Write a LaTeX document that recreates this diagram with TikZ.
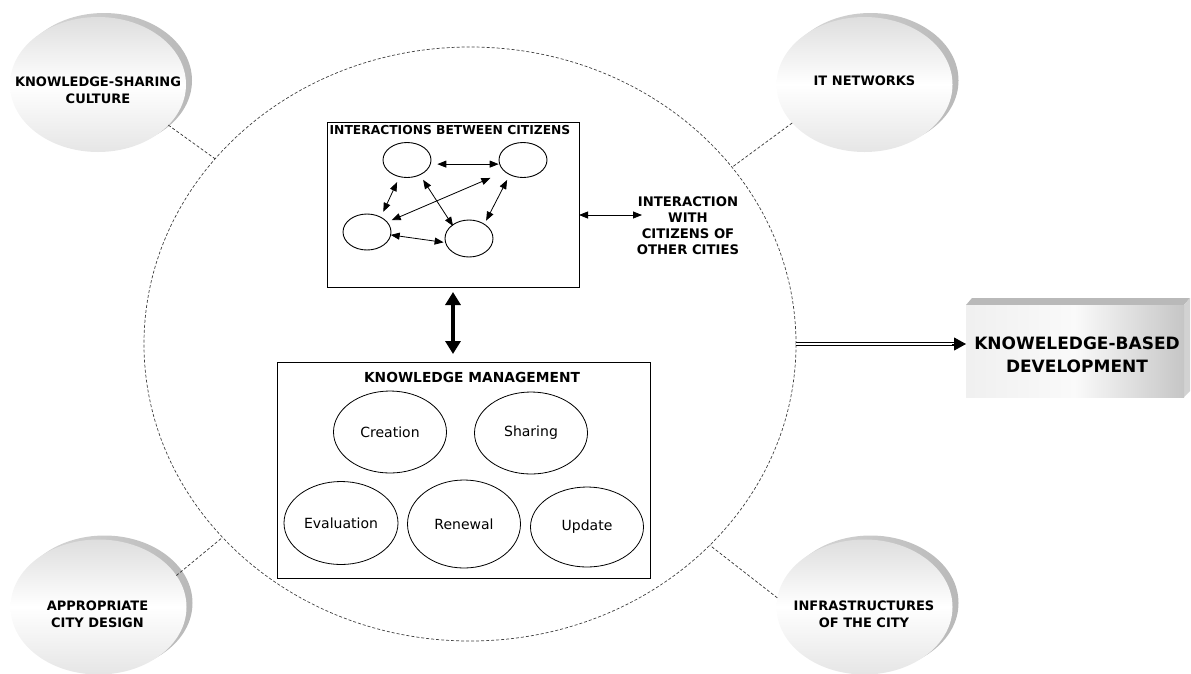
\documentclass[tikz,border=0pt]{standalone}
\usepackage{fontspec}
\setmainfont{DejaVu Sans}
\usetikzlibrary{shapes.geometric,arrows.meta}
\begin{document}
\begin{tikzpicture}[x=1pt,y=-1pt,
  face/.style={ellipse, minimum width=176pt, minimum height=135pt, inner sep=0pt, outer sep=0pt,
    top color=gray!26, bottom color=gray!20, middle color=white},
  shadowell/.style={ellipse, minimum width=176pt, minimum height=135pt, inner sep=0pt, outer sep=0pt,
    left color=gray!30, right color=gray!55},
  cornerlbl/.style={font=\bfseries\fontsize{13}{17}\selectfont, align=center, inner sep=0pt},
  dashconn/.style={draw=black!80, dash pattern=on 3pt off 2pt, line width=0.7pt},
  boxnode/.style={draw, line width=1pt, inner sep=0pt, outer sep=0pt},
  smallell/.style={ellipse, draw, line width=0.9pt, minimum width=48pt, minimum height=35pt, inner sep=0pt, outer sep=0pt},
  kmell/.style={ellipse, draw, line width=0.8pt, minimum width=113pt, minimum height=82pt, inner sep=0pt, outer sep=0pt,
    font=\fontsize{14}{16}\selectfont},
  garrow/.style={{Triangle[width=7pt,length=9pt]}-{Triangle[width=7pt,length=9pt]}, line width=0.8pt},
  ttl/.style={font=\bfseries\fontsize{12.3}{15}\selectfont, inner sep=0pt}
]
\useasboundingbox (0,0) rectangle (1191,673);

% big city ellipse
\node[ellipse, draw=black!75, dash pattern=on 3pt off 2pt, line width=0.7pt,
  minimum width=652pt, minimum height=594pt, inner sep=0pt, outer sep=0pt] (city) at (470,344) {};

% corner ellipses
\node[shadowell] (kscs) at (104,80.5) {};
\node[face] (ksc) at (98,84.5) {};
\node[cornerlbl] (ksct) at (98,90.5) {KNOWLEDGE-SHARING\\CULTURE};

\node[shadowell] (itns) at (870.5,80.5) {};
\node[face] (itn) at (864.5,84.5) {};
\node[cornerlbl] (itnt) at (864.5,81) {IT NETWORKS};

\node[shadowell] (acds) at (104.5,603) {};
\node[face] (acd) at (98.5,607) {};
\node[cornerlbl] (acdt) at (97.5,614) {APPROPRIATE\\CITY DESIGN};

\node[shadowell] (iocs) at (870.5,603) {};
\node[face] (ioc) at (864.5,607) {};
\node[cornerlbl] (ioct) at (864,614.5) {INFRASTRUCTURES\\OF THE CITY};

\draw[dashconn] (ksc.-30) -- (city.144);
\draw[dashconn] (itn.208) -- (city.34);
\draw[dashconn] (acd.22) -- (city.218);
\draw[dashconn] (ioc.174) -- (city.320);

% interactions box
\node[boxnode, minimum width=252pt, minimum height=165pt] (ib) at (453,204.5) {};
\node[ttl] (ibt) at (450,130) {INTERACTIONS BETWEEN CITIZENS};
\node[smallell] (A) at (407,160) {};
\node[smallell] (B) at (523,160) {};
\node[smallell, minimum height=36pt] (C) at (367,232) {};
\node[smallell, minimum height=37pt] (D) at (469,238.5) {};
\draw[garrow, shorten <=7pt, shorten >=1pt] (A.-10) -- (B.190);
\draw[garrow, shorten <=6pt, shorten >=6pt] (A.246) -- (C.47);
\draw[garrow, shorten <=6pt, shorten >=-1pt] (A.-49) -- (D.141);
\draw[garrow, shorten <=16pt, shorten >=5pt] (B.213) -- (C.26);
\draw[garrow, shorten <=6pt, shorten >=4pt] (B.228) -- (D.43);
\draw[garrow, shorten >=2pt] (C.-7) -- (D.190);

% interaction with other cities
\coordinate (oc) at (642,215);
\draw[garrow] (ib.east |- oc) -- (oc);
\node[font=\bfseries\fontsize{13.2}{16}\selectfont, align=center, inner sep=0pt] (oct) at (688,225.5)
  {INTERACTION\\WITH\\CITIZENS OF\\OTHER CITIES};

% knowledge management box
\node[boxnode, minimum width=373pt, minimum height=216pt] (km) at (463.5,470) {};
\node[font=\bfseries\fontsize{13.8}{16}\selectfont, inner sep=0pt] (kmt) at (472,377) {KNOWLEDGE MANAGEMENT};
\node[kmell] (cre) at (390,432) {Creation};
\node[kmell] (sha) at (531,433) {Sharing};
\node[kmell, minimum width=114pt, minimum height=83pt] (eva) at (341,523) {Evaluation};
\node[kmell, minimum height=88pt] (ren) at (464,524) {Renewal};
\node[kmell, minimum height=80pt] (upd) at (587,527) {Update};

% thick double arrow
\draw[line width=3.5pt, {Triangle[width=15pt,length=13pt]}-{Triangle[width=15pt,length=13pt]},
  shorten <=5pt, shorten >=8pt] (ib.south) -- (ib.south |- km.north);

% knowledge-based development box
\fill[gray!55] (966,305) -- (972,298) -- (1190,298) -- (1184,305) -- cycle;
\fill[gray!35] (1184,305) -- (1190,298) -- (1190,391) -- (1184,397) -- cycle;
\node[inner sep=0pt, outer sep=0pt, minimum width=218pt, minimum height=92pt,
  left color=gray!12, right color=gray!45, middle color=white!96!gray] (kbd) at (1075,351) {};
\node[font=\bfseries\fontsize{17}{23}\selectfont, align=center, inner sep=0pt] (kbdt) at (1077,354.5)
  {KNOWELEDGE-BASED\\DEVELOPMENT};

% double arrow to KBD
\draw[line width=0.9pt, double, double distance=1.6pt, shorten >=10pt] (city.east) -- (city.east -| kbd.west);
\draw[-{Triangle[width=13pt,length=12pt]}, line width=0.9pt] ([xshift=-14pt]city.east -| kbd.west) -- (city.east -| kbd.west);
\end{tikzpicture}
\end{document}
